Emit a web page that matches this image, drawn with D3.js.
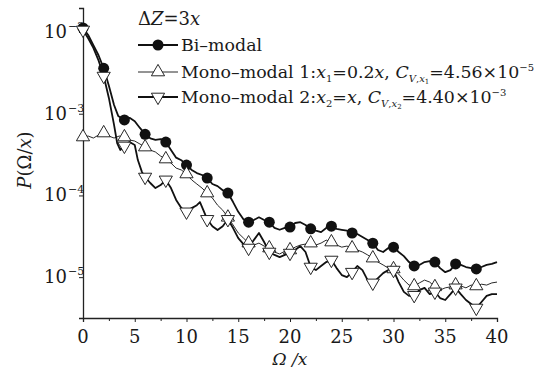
<!DOCTYPE html>
<html>
<head>
<meta charset="utf-8">
<script src="https://cdn.jsdelivr.net/npm/d3@7.9.0/dist/d3.min.js"></script>
<style>
  body { margin: 0; background: #fff; }
  svg { display: block; }
  text { font-family: "DejaVu Serif", "Liberation Serif", serif; fill: #1a1a1a; }
</style>
</head>
<body>
<svg id="chart" width="539" height="372"></svg>
<script>
// Omega/x positions, sampled every 0.5 (a few extra where the curves turn)
const biX = [0,0.5,1,1.5,2,2.5,3,3.4,4,4.5,5,5.5,6,6.5,7,7.5,8,8.5,9,9.5,10,10.5,11,11.5,12,12.5,13,13.5,14,14.5,15,15.5,16,16.5,17,17.5,18,18.5,19,19.5,20,20.5,21,21.5,22,22.5,23,23.5,24,24.5,25,25.5,26,26.5,27,27.5,28,28.5,29,29.5,30,30.5,31,31.5,32,32.5,33,33.5,34,34.5,35,35.5,36,36.5,37,37.5,38,38.5,39,39.5,40];
const biP = [1.12e-2,9.2e-3,6.9e-3,5.2e-3,3.6e-3,2.2e-3,1.28e-3,9.4e-4,8.4e-4,8.9e-4,8.1e-4,6.7e-4,5.6e-4,5.0e-4,4.8e-4,4.9e-4,4.5e-4,3.6e-4,2.9e-4,2.7e-4,2.35e-4,2.05e-4,1.88e-4,1.78e-4,1.63e-4,1.38e-4,1.30e-4,1.16e-4,1.07e-4,8.3e-5,6.3e-5,5.1e-5,4.7e-5,5.0e-5,5.4e-5,5.0e-5,4.7e-5,4.0e-5,3.8e-5,4.0e-5,4.1e-5,4.6e-5,4.7e-5,4.35e-5,3.9e-5,3.7e-5,3.56e-5,4.0e-5,4.2e-5,3.9e-5,3.8e-5,3.7e-5,3.47e-5,3.37e-5,3.1e-5,2.85e-5,2.6e-5,2.15e-5,2.03e-5,2.27e-5,2.33e-5,2.03e-5,1.81e-5,1.53e-5,1.37e-5,1.41e-5,1.53e-5,1.57e-5,1.53e-5,1.29e-5,1.15e-5,1.22e-5,1.45e-5,1.41e-5,1.33e-5,1.29e-5,1.26e-5,1.33e-5,1.41e-5,1.45e-5,1.53e-5];

const mono1X = [0,0.5,1,1.5,2,2.5,3,3.5,4,4.5,5,5.5,6,6.5,7,7.5,8,8.5,9,9.5,10,10.5,11,11.5,12,12.5,13,13.5,14,14.5,15,15.5,16,16.5,17,17.5,18,18.5,19,19.5,20,20.5,21,21.5,22,22.5,23,23.5,24,24.5,25,25.5,26,26.5,27,27.5,28,28.5,29,29.5,30,30.5,31,31.5,32,32.5,33,33.5,34,34.5,35,35.5,36,36.5,37,37.5,38,38.5,39,39.5,40];
const mono1P = [5.19e-4,5.33e-4,5.04e-4,5.48e-4,5.81e-4,5.33e-4,5.04e-4,5.33e-4,5.19e-4,4.77e-4,4.63e-4,4.26e-4,3.91e-4,3.59e-4,3.40e-4,3.03e-4,2.79e-4,2.49e-4,2.16e-4,2.05e-4,1.83e-4,1.55e-4,1.38e-4,1.23e-4,1.07e-4,9.3e-5,7.6e-5,6.6e-5,5.4e-5,4.35e-5,3.47e-5,3.01e-5,2.61e-5,2.47e-5,2.61e-5,2.40e-5,2.27e-5,2.03e-5,1.92e-5,2.08e-5,2.15e-5,2.33e-5,2.47e-5,2.54e-5,2.61e-5,2.47e-5,2.61e-5,2.84e-5,2.69e-5,2.47e-5,2.33e-5,2.40e-5,2.27e-5,2.15e-5,2.03e-5,1.87e-5,1.71e-5,1.53e-5,1.41e-5,1.29e-5,1.26e-5,1.09e-5,9.2e-6,8.0e-6,7.8e-6,8.5e-6,9.2e-6,8.7e-6,7.6e-6,6.95e-6,7.4e-6,7.6e-6,8.0e-6,7.8e-6,7.4e-6,8.0e-6,7.8e-6,8.2e-6,8.0e-6,8.5e-6,8.7e-6];

const mono2X = [0,0.5,1,1.5,2,2.5,3,3.3,3.6,4,4.5,5,5.3,5.7,6,6.5,7,7.5,8,8.5,9,9.5,10,10.5,11,11.3,11.7,12,12.5,13,13.5,14,14.5,15,15.5,16,16.5,17,17.5,18,18.5,19,19.5,20,20.5,21,21.5,22,22.5,23,23.5,24,24.5,25,25.5,26,26.5,27,27.5,28,28.5,29,29.5,30,30.5,31,31.5,32,32.5,33,33.5,34,34.5,35,35.5,36,36.5,37,37.5,38,38.5,39,39.5,40];
const mono2P = [1.06e-2,8.4e-3,6.4e-3,4.5e-3,2.89e-3,1.56e-3,7.3e-4,4.38e-4,3.6e-4,4.03e-4,4.5e-4,4.14e-4,2.71e-4,1.93e-4,1.68e-4,1.42e-4,1.23e-4,1.34e-4,1.55e-4,1.23e-4,8.8e-5,7.0e-5,6.3e-5,7.0e-5,7.6e-5,8.3e-5,6.3e-5,5.1e-5,4.2e-5,3.77e-5,4.2e-5,5.1e-5,3.99e-5,3.01e-5,2.54e-5,2.27e-5,2.84e-5,3.47e-5,2.69e-5,2.03e-5,1.87e-5,1.76e-5,1.87e-5,1.97e-5,2.15e-5,2.40e-5,2.03e-5,1.33e-5,1.22e-5,1.37e-5,1.53e-5,1.62e-5,1.29e-5,1.06e-5,1.00e-5,1.15e-5,1.37e-5,1.22e-5,9.2e-6,8.5e-6,9.75e-6,1.12e-5,1.22e-5,1.22e-5,8.7e-6,6.6e-6,5.9e-6,6.0e-6,6.95e-6,7.4e-6,6.2e-6,6.6e-6,5.55e-6,5.25e-6,6.2e-6,7.4e-6,6.2e-6,5.25e-6,4.69e-6,4.19e-6,4.96e-6,5.9e-6,6.2e-6,6.2e-6];

const xTicks = [0, 5, 10, 15, 20, 25, 30, 35, 40];
const yTicks = [1e-5, 1e-4, 1e-3, 1e-2];
const yExp = ["\u22125", "\u22124", "\u22123", "\u22122"];

const svg = d3.select("#chart");
const x = d3.scaleLinear().domain([0, 40]).range([83, 497]);
const y = d3.scaleLog().domain([Math.pow(10, -5.5), Math.pow(10, -1.706)]).range([318, 8]);

// axes (left + bottom only)
const xAxis = svg.append("g").attr("transform", "translate(0,318)")
  .call(d3.axisBottom(x).tickValues(d3.range(0, 40.1, 2.5)).tickSize(4).tickFormat(""));
xAxis.selectAll(".tick line").attr("stroke", "#222").attr("y2", d => d % 5 === 0 ? 4 : 3);
xAxis.select(".domain").attr("stroke", "#222").attr("stroke-width", 1.3);

xAxis.selectAll(".xlab").data(xTicks).enter().append("text")
  .attr("class", "xlab")
  .attr("x", d => x(d)).attr("y", 25)
  .attr("text-anchor", "middle").attr("font-size", 18).text(d => d);

const yAxis = svg.append("g").attr("transform", "translate(83,0)")
  .call(d3.axisLeft(y).tickValues(yTicks).tickSize(4).tickFormat(""));
yAxis.selectAll(".tick line").attr("stroke", "#222");
yAxis.select(".domain").attr("stroke", "#222").attr("stroke-width", 1.3);

yTicks.forEach((t, i) => {
  svg.append("text").attr("x", 67).attr("y", y(t) + 6)
    .attr("text-anchor", "end").attr("font-size", 18).text("10");
  svg.append("text").attr("x", 68).attr("y", y(t) - 2)
    .attr("font-size", 11).text(yExp[i]);
});

// axis titles
svg.append("text").attr("x", 290).attr("y", 365).attr("text-anchor", "middle")
  .attr("font-size", 17).attr("font-style", "italic").text("\u03A9 /x");
svg.append("text").attr("transform", "translate(31,160) rotate(-90)")
  .attr("text-anchor", "middle").attr("font-size", 18)
  .html('<tspan font-style="italic">P</tspan>(\u03A9/<tspan font-style="italic">x</tspan>)');

// curves
const line = d3.line().x(d => x(d[0])).y(d => y(d[1]));
const series = [
  { xs: biX, ps: biP, w: 1.8, mark: "circle" },
  { xs: mono1X, ps: mono1P, w: 0.9, mark: "up" },
  { xs: mono2X, ps: mono2P, w: 1.8, mark: "down" }
];

const sym = {
  circle: d3.symbol().type(d3.symbolCircle).size(95),
  up: d3.symbol().type(d3.symbolTriangle).size(75)
};

function drawMarker(g, kind, px, py) {
  if (kind === "circle") {
    g.append("path").attr("d", sym.circle()).attr("transform", `translate(${px},${py})`)
      .attr("fill", "#111");
  } else {
    const rot = kind === "down" ? 180 : 0;
    g.append("path").attr("d", sym.up()).attr("transform", `translate(${px},${py}) rotate(${rot})`)
      .attr("fill", "#fff").attr("stroke", "#111").attr("stroke-width", 0.9);
  }
}

series.forEach(s => {
  const pts = s.xs.map((v, i) => [v, s.ps[i]]);
  svg.append("path").datum(pts).attr("d", line)
    .attr("fill", "none").attr("stroke", "#111").attr("stroke-width", s.w)
    .attr("stroke-linejoin", "round");
});
series.forEach(s => {
  const g = svg.append("g");
  s.xs.forEach((v, i) => {
    if (v % 2 === 0 && v < 40) drawMarker(g, s.mark, x(v), y(s.ps[i]));
  });
});

// legend
const lg = svg.append("g");
lg.append("text").attr("x", 138).attr("y", 25).attr("font-size", 18)
  .html('\u0394<tspan font-style="italic">Z</tspan>=3<tspan font-style="italic">x</tspan>');

const rows = [
  { y: 45, w: 1.8, mark: "circle",
    html: 'Bi\u2013modal' },
  { y: 72, w: 0.9, mark: "up",
    html: 'Mono\u2013modal 1:<tspan font-style="italic">x</tspan><tspan font-size="10" dy="4">1</tspan><tspan dy="-4">=0.2</tspan><tspan font-style="italic">x</tspan>, <tspan font-style="italic">C</tspan><tspan font-size="10" dy="4" font-style="italic">V</tspan><tspan font-size="10">,</tspan><tspan font-size="10" font-style="italic">x</tspan><tspan font-size="7" dy="2">1</tspan><tspan dy="-6">=4.56\u00D710</tspan><tspan font-size="10" dy="-7">\u22125</tspan>' },
  { y: 97, w: 1.8, mark: "down",
    html: 'Mono\u2013modal 2:<tspan font-style="italic">x</tspan><tspan font-size="10" dy="4">2</tspan><tspan dy="-4">=</tspan><tspan font-style="italic">x</tspan>, <tspan font-style="italic">C</tspan><tspan font-size="10" dy="4" font-style="italic">V</tspan><tspan font-size="10">,</tspan><tspan font-size="10" font-style="italic">x</tspan><tspan font-size="7" dy="2">2</tspan><tspan dy="-6">=4.40\u00D710</tspan><tspan font-size="10" dy="-7">\u22123</tspan>' }
];
rows.forEach(r => {
  lg.append("line").attr("x1", 138).attr("x2", 178).attr("y1", r.y).attr("y2", r.y)
    .attr("stroke", "#111").attr("stroke-width", r.w);
  drawMarker(lg, r.mark, 158, r.y);
  lg.append("text").attr("x", 181).attr("y", r.y + 6).attr("font-size", 17.4).html(r.html);
});
</script>
</body>
</html>
